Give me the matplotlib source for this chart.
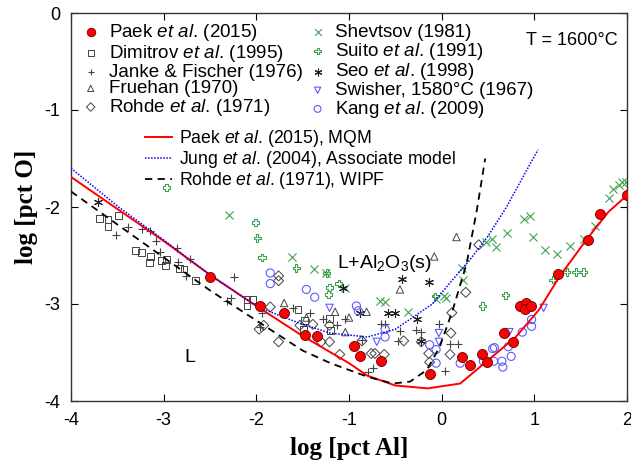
import matplotlib
matplotlib.use("Agg")
import matplotlib.pyplot as plt

plt.rcParams['font.family'] = ['Liberation Sans', 'DejaVu Sans']
plt.rcParams['mathtext.fontset'] = 'custom'
plt.rcParams['mathtext.rm'] = 'Liberation Sans'
plt.rcParams['mathtext.it'] = 'Liberation Sans:italic'
plt.rcParams['axes.unicode_minus'] = False

# ---------------- data ----------------
paek_x = [-2.50, -1.96, -1.70, -1.48, -1.34, -0.95, -0.88, -0.65, -0.13, 0.22, 0.31, 0.44, 0.49,
          0.67, 0.77, 0.84, 0.91, 0.90, 0.96, 1.26, 1.58, 1.71, 2.00]
paek_y = [-2.72, -3.02, -3.09, -3.32, -3.33, -3.43, -3.54, -3.59, -3.72, -3.55, -3.63, -3.52, -3.60,
          -3.30, -3.39, -3.02, -2.99, -3.05, -3.02, -2.69, -2.34, -2.07, -1.88]

dimitrov_x = [-3.69, -3.60, -3.60, -3.49, -3.30, -3.24, -3.14, -3.15, -3.02, -2.97, -2.98, -2.83, -2.78,
              -2.66, -2.10, -2.04, -2.10, -1.55, -1.48, -1.49, -1.21, -1.20]
dimitrov_y = [-2.12, -2.13, -2.20, -2.09, -2.45, -2.47, -2.51, -2.57, -2.55, -2.54, -2.60, -2.63, -2.64,
              -2.76, -2.95, -2.95, -3.02, -3.06, -3.17, -3.26, -3.15, -3.27]

janke_x = [-3.51, -3.39, -3.23, -3.15, -3.08, -3.04, -2.86, -2.85, -2.76, -2.72, -2.24, -2.32, -2.27,
           -1.94, -1.96, -1.60, -1.42, -1.28, -1.13, -1.04, -0.86, -0.80, -0.74, -0.65, -0.61,
           -0.45, -0.28, -0.22, -0.47, -0.03, 0.09, 0.18, 0.04]
janke_y = [-2.29, -2.21, -2.23, -2.25, -2.35, -2.46, -2.42, -2.57, -2.71, -2.54, -2.72, -2.97, -2.94,
           -3.09, -3.24, -3.04, -3.09, -3.15, -3.22, -3.15, -3.37, -3.70, -3.66, -3.21, -3.21,
           -3.28, -3.27, -3.29, -3.38, -3.21, -3.41, -3.41, -3.69]

fruehan_x = [-1.70, -1.15, -1.00, -1.04, -0.81, -0.45, -0.08, 0.16, -1.46]
fruehan_y = [-2.99, -3.08, -3.14, -3.29, -3.08, -2.85, -2.51, -2.31, -3.14]

rohde_x = [-1.76, -1.76, -1.97, -1.92, -1.85, -1.76, -1.53, -1.39, -1.30, -1.21, -1.10, -1.21,
           -0.86, -0.76, -0.72, -0.62, -0.41, -0.22, -0.13, -0.14, 0.09, 0.10, 0.11, 0.26, 0.40]
rohde_y = [-2.71, -2.76, -3.26, -3.22, -3.03, -3.39, -3.22, -3.21, -3.39, -3.39, -3.52, -3.22,
           -3.38, -3.51, -3.51, -3.52, -3.38, -3.39, -3.60, -3.51, -3.52, -3.30, -3.09, -2.88, -2.39]

shevtsov_x = [-2.29, -1.61, -1.38, -1.25, -1.04, -0.67, -0.36, -0.61, 0.22, 0.23, 0.05, -0.06, 0.03,
              0.48, 0.54, 0.59, 0.71, 0.89, 0.95, 0.99, 1.11, 1.24, 1.38, 1.54, 1.66, 1.81,
              1.85, 1.91, 1.95, 1.99]
shevtsov_y = [-2.08, -2.52, -2.64, -2.68, -2.84, -2.97, -3.08, -2.98, -2.63, -2.75, -2.94, -2.95, -2.92,
              -2.36, -2.33, -2.41, -2.27, -2.12, -2.09, -2.31, -2.44, -2.48, -2.40, -2.33, -2.20, -1.91,
              -1.81, -1.77, -1.74, -1.74]

suito_x = [-2.97, -2.01, -1.99, -1.94, -1.57, -1.24, -1.21, -1.22, -1.11, -0.07, 0.44, 0.69,
           1.35, 1.45, 1.53, 1.20]
suito_y = [-1.80, -2.16, -2.32, -2.52, -2.63, -2.68, -2.83, -2.90, -2.79, -2.92, -3.02, -2.91,
           -2.67, -2.67, -2.67, -2.75]

seo_x = [-3.71, -1.06, -0.88, -0.58, -0.50, -0.43, -0.14, -0.27, -0.22]
seo_y = [-1.95, -2.84, -3.09, -3.09, -3.09, -2.74, -2.77, -3.15, -3.38]

swisher_x = [-1.21, -0.70, -0.03, -0.03, 0.73, 1.10]
swisher_y = [-3.04, -3.39, -3.30, -3.39, -3.29, -3.04]

kang_x = [-1.85, -1.85, -1.46, -1.37, -0.92, -0.90, -0.61, -0.61, -0.13, -0.06, -0.06, 0.20, 0.45,
          0.55, 0.57, 0.56, 0.65, 0.66, 0.75, 0.72, 0.87, 0.97, 0.97]
kang_y = [-2.68, -2.79, -2.85, -2.93, -3.02, -3.07, -3.26, -3.34, -3.42, -3.47, -3.61, -3.61, -3.59,
          -3.46, -3.45, -3.59, -3.59, -3.65, -3.54, -3.44, -3.29, -3.23, -3.16]

mqm_x = [-4.0, -3.5, -3.0, -2.5, -2.0, -1.5, -1.0, -0.8, -0.5, -0.15, 0.2, 0.5, 0.8, 1.05, 1.27, 1.56, 1.8, 2.0]
mqm_y = [-1.69, -2.02, -2.35, -2.70, -3.02, -3.33, -3.61, -3.74, -3.84, -3.87, -3.82, -3.58, -3.34, -3.06, -2.72, -2.34, -2.05, -1.88]

jung_x = [-4.0, -3.5, -3.0, -2.5, -2.0, -1.75, -1.5, -1.2, -0.8, -0.5, -0.1, 0.1, 0.3, 0.5, 0.7, 0.9, 1.04]
jung_y = [-1.60, -1.99, -2.34, -2.70, -3.02, -3.12, -3.21, -3.30, -3.34, -3.26, -3.00, -2.77, -2.55, -2.30, -2.00, -1.65, -1.41]

wipf_x = [-4.0, -3.5, -3.0, -2.5, -2.0, -1.5, -1.2, -0.8, -0.53, -0.34, -0.16, -0.02, 0.12, 0.27, 0.38, 0.47]
wipf_y = [-1.84, -2.18, -2.52, -2.86, -3.17, -3.48, -3.61, -3.75, -3.82, -3.80, -3.68, -3.44, -3.06, -2.58, -2.03, -1.50]

xticks = [-4, -3, -2, -1, 0, 1, 2]
yticks = [0, -1, -2, -3, -4]

# ---------------- figure ----------------
fig = plt.figure(figsize=(6.31, 4.66), dpi=100)
ax = fig.add_axes([71/631, 1 - 401/466, 556/631, 388/466])

gray = '#444444'
green = '#3fa34d'
blue = '#5b5bff'

h_paek = ax.scatter(paek_x, paek_y, s=52, c='#ff0000', edgecolors='#660000', linewidths=0.6, zorder=5)
h_dim = ax.scatter(dimitrov_x, dimitrov_y, s=24, marker='s', facecolors='none', edgecolors=gray, linewidths=0.7)
h_jan = ax.scatter(janke_x, janke_y, s=34, marker='+', c=gray, linewidths=0.8)
h_fru = ax.scatter(fruehan_x, fruehan_y, s=28, marker='^', facecolors='none', edgecolors=gray, linewidths=0.7)
h_roh = ax.scatter(rohde_x, rohde_y, s=26, marker='D', facecolors='none', edgecolors=gray, linewidths=0.7)
h_she = ax.scatter(shevtsov_x, shevtsov_y, s=34, marker='x', c=green, linewidths=0.8)
h_sui = ax.scatter(suito_x, suito_y, s=28, marker='P', facecolors='none', edgecolors=green, linewidths=0.8)
h_seo = ax.scatter(seo_x, seo_y, s=34, marker=(6, 2, 0), c='#222222', linewidths=0.8)
h_swi = ax.scatter(swisher_x, swisher_y, s=28, marker='v', facecolors='none', edgecolors=blue, linewidths=0.8)
h_kan = ax.scatter(kang_x, kang_y, s=34, marker='o', facecolors='none', edgecolors=blue, linewidths=0.8)

l_mqm, = ax.plot(mqm_x, mqm_y, color='#ff0000', lw=1.4, zorder=4)
l_jung, = ax.plot(jung_x, jung_y, color='#0000ff', lw=1.1, ls=(0, (1, 1)), zorder=4)
l_wipf, = ax.plot(wipf_x, wipf_y, color='black', lw=1.3, ls=(0, (4, 3)), zorder=4)

ax.set_xlim(-4, 2)
ax.set_ylim(-4, 0)
ax.set_xticks(xticks)
ax.set_yticks(yticks)
ax.set_xticklabels([str(t) for t in xticks])
ax.set_yticklabels([str(t) for t in yticks])
ax.tick_params(direction='in', top=True, right=True, labelsize=13, length=5, width=0.8, pad=8)
for sp in ax.spines.values():
    sp.set_linewidth(1.0)
    sp.set_color('#333333')

ax.set_xlabel('log [pct Al]', family='Liberation Serif', fontweight='bold', fontsize=18, labelpad=6)
ax.set_ylabel('log [pct O]', family='Liberation Serif', fontweight='bold', fontsize=18, labelpad=4)

ax.text(-2.72, -3.55, 'L', fontsize=14, ha='center', va='center')
ax.text(-0.62, -2.58, 'L+Al$_2$O$_3$(s)', fontsize=14, ha='center', va='center')
ax.text(1.9, -0.28, 'T = 1600°C', fontsize=13, ha='right', va='center')

labels1 = ['Paek $\\mathit{et\\ al}$. (2015)', 'Dimitrov $\\mathit{et\\ al}$. (1995)',
           'Janke & Fischer (1976)', 'Fruehan (1970)', 'Rohde $\\mathit{et\\ al}$. (1971)',
           'Shevtsov (1981)', 'Suito $\\mathit{et\\ al}$. (1991)', 'Seo $\\mathit{et\\ al}$. (1998)',
           'Swisher, 1580°C (1967)', 'Kang $\\mathit{et\\ al}$. (2009)']
handles1 = [h_paek, h_dim, h_jan, h_fru, h_roh, h_she, h_sui, h_seo, h_swi, h_kan]
leg1 = ax.legend(handles1, labels1, ncol=2, loc='upper left', bbox_to_anchor=(-0.005, 1.015),
                 frameon=False, fontsize=13.5, handletextpad=0.55, columnspacing=0.41,
                 labelspacing=-0.02, borderpad=0.3, handlelength=0.8, scatterpoints=1,
                 markerscale=0.85)
ax.add_artist(leg1)

labels2 = ['Paek $\\mathit{et\\ al}$. (2015), MQM', 'Jung $\\mathit{et\\ al}$. (2004), Associate model',
           'Rohde $\\mathit{et\\ al}$. (1971), WIPF']
leg2 = ax.legend([l_mqm, l_jung, l_wipf], labels2, loc='upper left', bbox_to_anchor=(0.111, 0.735),
                 frameon=False, fontsize=12.7, handletextpad=0.36, labelspacing=0.0,
                 borderpad=0.2, handlelength=1.55)

fig.savefig('out.png', dpi=100)
